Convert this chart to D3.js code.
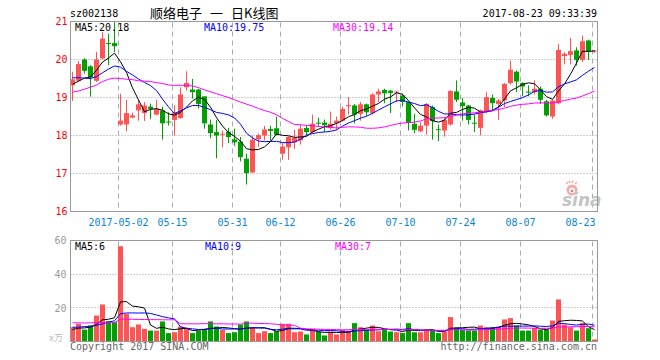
<!DOCTYPE html>
<html><head><meta charset="utf-8">
<script src="https://cdn.jsdelivr.net/npm/d3@7"></script>
<style>body{margin:0;background:#fff}svg{display:block}</style>
</head><body>
<svg id="c" width="660" height="360"></svg>
<script>
// ---------------- data ----------------
const dates = [
"04-19","04-20","04-21","04-24","04-25","04-26","04-27","04-28",
"05-02","05-03","05-04","05-05","05-08","05-09","05-10","05-11","05-12","05-15","05-16","05-17","05-18","05-19","05-22","05-23","05-24","05-25","05-26","05-31",
"06-01","06-02","06-05","06-06","06-07","06-08","06-09","06-12","06-13","06-14","06-15","06-16","06-19","06-20","06-21","06-22","06-23","06-26","06-27","06-28","06-29","06-30",
"07-03","07-04","07-05","07-06","07-07","07-10","07-11","07-12","07-13","07-14","07-17","07-18","07-19","07-20","07-21","07-24","07-25","07-26","07-27","07-28","07-31",
"08-01","08-02","08-03","08-04","08-07","08-08","08-09","08-10","08-11","08-14","08-15","08-16","08-17","08-18","08-21","08-22","08-23"];

const open = [19.32,19.44,20.00,19.82,19.44,20.03,20.42,20.43,18.29,18.29,
18.47,18.66,18.59,18.76,18.55,18.66,18.36,18.41,18.46,19.27,
19.21,19.21,19.03,18.29,18.09,18.02,18.10,17.90,17.84,17.39,
17.03,17.90,18.00,18.17,18.19,17.52,17.69,17.82,17.87,18.20,
18.09,18.33,18.34,18.20,18.32,18.39,18.77,18.79,18.57,18.82,
18.59,19.08,19.20,19.18,19.13,19.05,18.88,18.31,18.11,18.26,
18.75,18.16,18.13,18.29,19.16,18.87,18.79,18.33,18.20,18.64,
18.99,18.83,18.92,19.38,19.68,19.38,19.15,19.14,19.23,18.90,
18.50,18.85,20.09,20.12,20.24,19.99,20.50,20.21];
const high = [19.68,19.96,20.03,19.85,20.20,20.72,20.68,20.98,19.10,18.94,
18.60,18.92,18.88,18.84,18.94,18.76,18.61,18.79,19.27,19.69,
19.49,19.23,19.03,18.42,18.41,18.13,18.20,18.18,17.96,17.52,
18.00,18.05,18.25,18.26,18.50,17.80,17.98,18.15,18.29,18.26,
18.55,18.47,18.42,18.63,18.50,18.76,19.01,18.83,18.88,18.84,
19.11,19.23,19.23,19.20,19.18,19.10,18.89,18.57,18.35,18.85,
18.79,18.29,18.48,19.19,19.45,18.99,18.81,18.55,18.68,19.14,
19.08,18.96,19.38,19.97,19.71,19.40,19.32,19.45,19.29,18.94,
18.94,20.41,20.19,20.57,20.32,20.63,20.52,20.25];
const low = [18.91,19.42,19.63,19.02,19.41,20.00,19.85,20.20,18.26,18.11,
18.45,18.39,18.38,18.43,18.53,17.89,18.26,18.00,18.44,19.18,
18.97,18.71,18.18,17.93,17.40,17.69,17.80,17.73,17.32,16.71,
17.01,17.69,17.87,17.87,18.00,17.36,17.36,17.65,17.76,18.00,
18.04,18.24,18.09,18.15,18.15,18.37,18.55,18.32,18.39,18.52,
18.55,18.88,18.85,18.59,18.88,18.76,18.13,18.06,18.09,18.02,
17.89,17.85,17.97,18.26,18.88,18.39,18.29,18.09,18.00,18.59,
18.66,18.41,18.75,19.34,19.14,19.03,19.03,19.08,18.83,18.50,
18.44,18.82,19.87,19.87,19.84,19.93,19.99,20.17];
const close = [19.48,19.88,19.70,19.53,20.00,20.55,20.41,20.35,18.39,18.59,
18.53,18.82,18.79,18.70,18.70,18.32,18.34,18.61,19.08,19.38,
19.14,18.83,18.32,18.06,18.00,18.04,17.96,17.82,17.43,17.01,
17.89,18.01,18.16,18.12,18.02,17.71,17.96,17.94,18.18,18.09,
18.31,18.31,18.27,18.31,18.39,18.70,18.80,18.55,18.82,18.61,
19.08,19.16,19.11,19.12,19.15,18.88,18.33,18.15,18.26,18.83,
18.38,18.14,18.41,19.17,18.94,18.77,18.41,18.31,18.66,19.01,
18.85,18.92,19.36,19.73,19.42,19.29,19.13,19.23,18.94,18.53,
18.92,20.25,20.15,20.22,19.99,20.48,20.22,20.22];
// volume, in 万手
const volume = [8.5,10.5,7.1,9.5,15.4,22.0,12.1,11.5,56.6,16.4,
8.5,10.1,7.5,6.5,6.5,11.9,5.0,5.5,8.9,8.1,
5.0,6.5,7.5,11.9,8.9,6.9,5.0,5.5,10.1,11.9,
8.1,5.0,6.1,5.0,6.1,10.5,10.5,5.5,5.9,4.2,
7.5,5.9,3.6,5.9,4.2,6.9,6.5,10.9,8.5,6.9,
9.5,6.1,6.9,5.9,5.5,5.0,10.9,5.5,5.5,7.1,
6.5,5.0,6.1,14.5,8.3,6.9,6.5,6.5,9.5,8.5,
8.5,8.9,13.1,13.9,9.5,6.5,6.5,8.1,7.1,7.1,
12.5,25.0,10.1,8.5,6.5,10.9,7.9,1.2];

// moving-average values at the left edge (their windows start before the visible range)
const ma5Start  = [19.35,19.43,19.51,19.54];
const ma10Start = [19.52,19.52,19.51,19.50,19.55,19.65,19.75,19.83,19.80];
const ma30Start = [19.14,19.17,19.22,19.27,19.33,19.42,19.48,19.51,19.50,19.48,
19.47,19.44,19.43,19.42,19.39,19.37,19.33,19.32,19.32,19.32,
19.30,19.26,19.20,19.15,19.10,19.05,19.00,18.94,18.88];
const vma5Start  = [7.1,7.9,8.1,8.5];
const vma10Start = [8.5,8.5,8.9,9.1,9.5,10.5,11.5,12.3,16.5];
const vma30Start = [11.1,11.1,11.0,11.1,11.1,11.2,11.1,11.2,13.3,13.2,
13.2,13.1,13.1,13.0,13.0,12.9,12.9,12.9,10.6,10.5,
10.5,10.5,10.6,10.6,10.5,10.5,10.4,10.4,10.3];

const priceTicks = [16,17,18,19,20,21];
const volTicks = [20,40,60];
const tickDates  = ["05-02","05-15","05-31","06-12","06-26","07-10","07-24","08-07","08-23"];
const tickLabels = ["2017-05-02","05-15","05-31","06-12","06-26","07-10","07-24","08-07","08-23"];
const code = "sz002138";
const stockName = "顺络电子";
const stamp = "2017-08-23 09:33:39";
const priceLegend = ["MA5:20.18","MA10:19.75","MA30:19.14"];
const volLegend = ["MA5:6","MA10:9","MA30:7"];

// ---------------- drawing ----------------
const RED = "#ff5454", GREEN = "#00a000", MA_COL = ["#000000","#0000ff","#ff00ff"];
const mono = "'DejaVu Sans Mono', monospace";
const svg = d3.select("#c");
svg.append("rect").attr("width",660).attr("height",360).attr("fill","#fff");

const L = 70.5, R = 597.5, T = 21.5, B = 211.5, VT = 240.5, VB = 341.5;
const x = d3.scaleBand().domain(dates).range([69.5, 597.5]).padding(0);
const cx = d => x(d) + x.bandwidth() / 2;
const y = d3.scaleLinear().domain([16, 21]).range([B, T]);
const yv = d3.scaleLinear().domain([0, 60]).range([VB, VT]);
const crisp = v => Math.round(v - 0.5) + 0.5;

function ma(vals, n, start) {
  return vals.map((v, i) => i < n - 1 ? start[i] : d3.mean(vals.slice(i - n + 1, i + 1)));
}

// grids
const grid = svg.append("g");
[17,18,19,20].forEach(p => grid.append("line").attr("x1",L).attr("x2",R)
  .attr("y1",crisp(y(p))).attr("y2",crisp(y(p)))
  .attr("stroke","#a0a0a0").attr("stroke-dasharray","1,2"));
[20,40].forEach(v => grid.append("line").attr("x1",L).attr("x2",R)
  .attr("y1",crisp(yv(v))).attr("y2",crisp(yv(v)))
  .attr("stroke","#a0a0a0").attr("stroke-dasharray","1,2"));
tickDates.forEach(d => {
  const gx = cx(d) - 2;
  grid.append("line").attr("x1",gx).attr("x2",gx).attr("y1",T+1).attr("y2",B)
    .attr("stroke","#aaaaaa").attr("stroke-dasharray","5,4");
  grid.append("line").attr("x1",gx).attr("x2",gx).attr("y1",VT+1).attr("y2",VB)
    .attr("stroke","#aaaaaa").attr("stroke-dasharray","5,4");
});

// watermark
const wm = svg.append("g");
wm.append("circle").attr("cx",572).attr("cy",190).attr("r",5.5).attr("fill","#f6a9a9");
wm.append("circle").attr("cx",572).attr("cy",190.5).attr("r",2.8).attr("fill","#fff");
wm.append("circle").attr("cx",572).attr("cy",190.8).attr("r",1.4).attr("fill","#999");
wm.append("path").attr("d","M566,184 L568,182 M569,183 L570,180.5 M572,183 L573,180.5 M575,184 L577,182")
  .attr("stroke","#f6a9a9").attr("stroke-width",1.5);
wm.append("text").attr("x",562).attr("y",205.5).text("sina")
  .attr("font-family","'DejaVu Sans', sans-serif").attr("font-size",17)
  .attr("font-weight","bold").attr("font-style","italic").attr("fill","#c4c4c4");

// candles
const idx = d3.range(dates.length);
const cg = svg.append("g");
idx.forEach(i => {
  const d = dates[i], c = crisp(cx(d));
  const up = close[i] >= open[i];
  const col = up ? RED : GREEN;
  cg.append("line").attr("x1",c).attr("x2",c).attr("y1",y(high[i])).attr("y2",y(low[i]))
    .attr("stroke",col).attr("stroke-width",1);
  const top = y(Math.max(open[i],close[i])), bot = y(Math.min(open[i],close[i]));
  cg.append("rect").attr("x",c-2.5).attr("width",5)
    .attr("y",Math.min(top, bot - 1)).attr("height",Math.max(1, bot - top))
    .attr("fill",col);
});

// price MAs
const line = d3.line().x((d,i) => cx(dates[i])).y(d => y(d));
[[5,ma5Start],[10,ma10Start],[30,ma30Start]].forEach(([n,s],k) => {
  svg.append("path").datum(ma(close,n,s)).attr("d",line)
    .attr("fill","none").attr("stroke",MA_COL[k]).attr("stroke-width",1);
});

// volume bars
const vg = svg.append("g");
idx.forEach(i => {
  const c = crisp(cx(dates[i]));
  vg.append("rect").attr("x",c-2.5).attr("width",5)
    .attr("y",yv(volume[i])).attr("height",VB - yv(volume[i]))
    .attr("fill", close[i] >= open[i] ? RED : GREEN);
});
const vline = d3.line().x((d,i) => cx(dates[i])).y(d => yv(d));
[[5,vma5Start],[10,vma10Start],[30,vma30Start]].forEach(([n,s],k) => {
  svg.append("path").datum(ma(volume,n,s)).attr("d",vline)
    .attr("fill","none").attr("stroke",MA_COL[k]).attr("stroke-width",1);
});

// frames
[[T,B],[VT,VB]].forEach(([t,b]) => svg.append("rect").attr("x",L).attr("y",t)
  .attr("width",R-L).attr("height",b-t).attr("fill","none").attr("stroke","#999"));

// axes
const ay = svg.append("g").attr("transform",`translate(${L},0)`)
  .call(d3.axisLeft(y).tickValues(priceTicks).tickSize(0).tickPadding(3).tickFormat(d3.format("d")));
ay.select(".domain").remove();
ay.selectAll("text").attr("fill","#ff0000").attr("font-family",mono).attr("font-size",10);

const av = svg.append("g").attr("transform",`translate(${L},0)`)
  .call(d3.axisLeft(yv).tickValues(volTicks).tickSize(0).tickPadding(4).tickFormat(d3.format("d")));
av.select(".domain").remove();
av.selectAll("text").attr("fill","#999").attr("font-family",mono).attr("font-size",10);
svg.append("text").attr("x",63).attr("y",VB-0.5).attr("text-anchor","end").text("x万")
  .attr("font-family","'DejaVu Sans', 'Noto Sans CJK SC', sans-serif").attr("font-size",9).attr("fill","#bbb");

const ax = svg.append("g").attr("transform",`translate(-2,${B})`)
  .call(d3.axisBottom(x).tickValues(tickDates).tickSize(0)
    .tickFormat(d => tickLabels[tickDates.indexOf(d)]));
ax.select(".domain").remove();
ax.selectAll("text").attr("fill","#0a84d6").attr("font-family",mono).attr("font-size",10)
  .attr("dy",0).attr("y",14);
ax.selectAll(".tick text").each(function() {
  const t = d3.select(this), w = this.getComputedTextLength();
  const tx = d3.select(this.parentNode).attr("transform").match(/translate\(([-\d.]+)/);
  const px = +tx[1] - 2;
  if (px + w/2 > R - 2) t.attr("x", (R - 2) - w/2 - px);
});

// header texts
const txt = (s,xx,yy,col,anchor,size,fam) => svg.append("text").attr("x",xx).attr("y",yy).text(s)
  .attr("fill",col).attr("text-anchor",anchor||"start").attr("font-size",size||10)
  .attr("font-family",fam||mono);
txt(code,70,17,"#000");
const cjk = "'Noto Sans CJK SC', sans-serif";
txt(stockName,150,17.5,"#000","start",13,cjk);
txt("一",210,17.5,"#000","start",13,cjk);
txt("日K线图",231,17.5,"#000","start",13,cjk);
txt(stamp,597,17,"#000","end");
[75,204,333].forEach((xx,k) => txt(priceLegend[k],xx,31,MA_COL[k]));
[75,205,335].forEach((xx,k) => txt(volLegend[k],xx,249.5,MA_COL[k]));
txt("Copyright 2017 SINA.COM",70,349.5,"#666");
txt("http://finance.sina.com.cn",597,349.5,"#666","end");
</script>
</body></html>
